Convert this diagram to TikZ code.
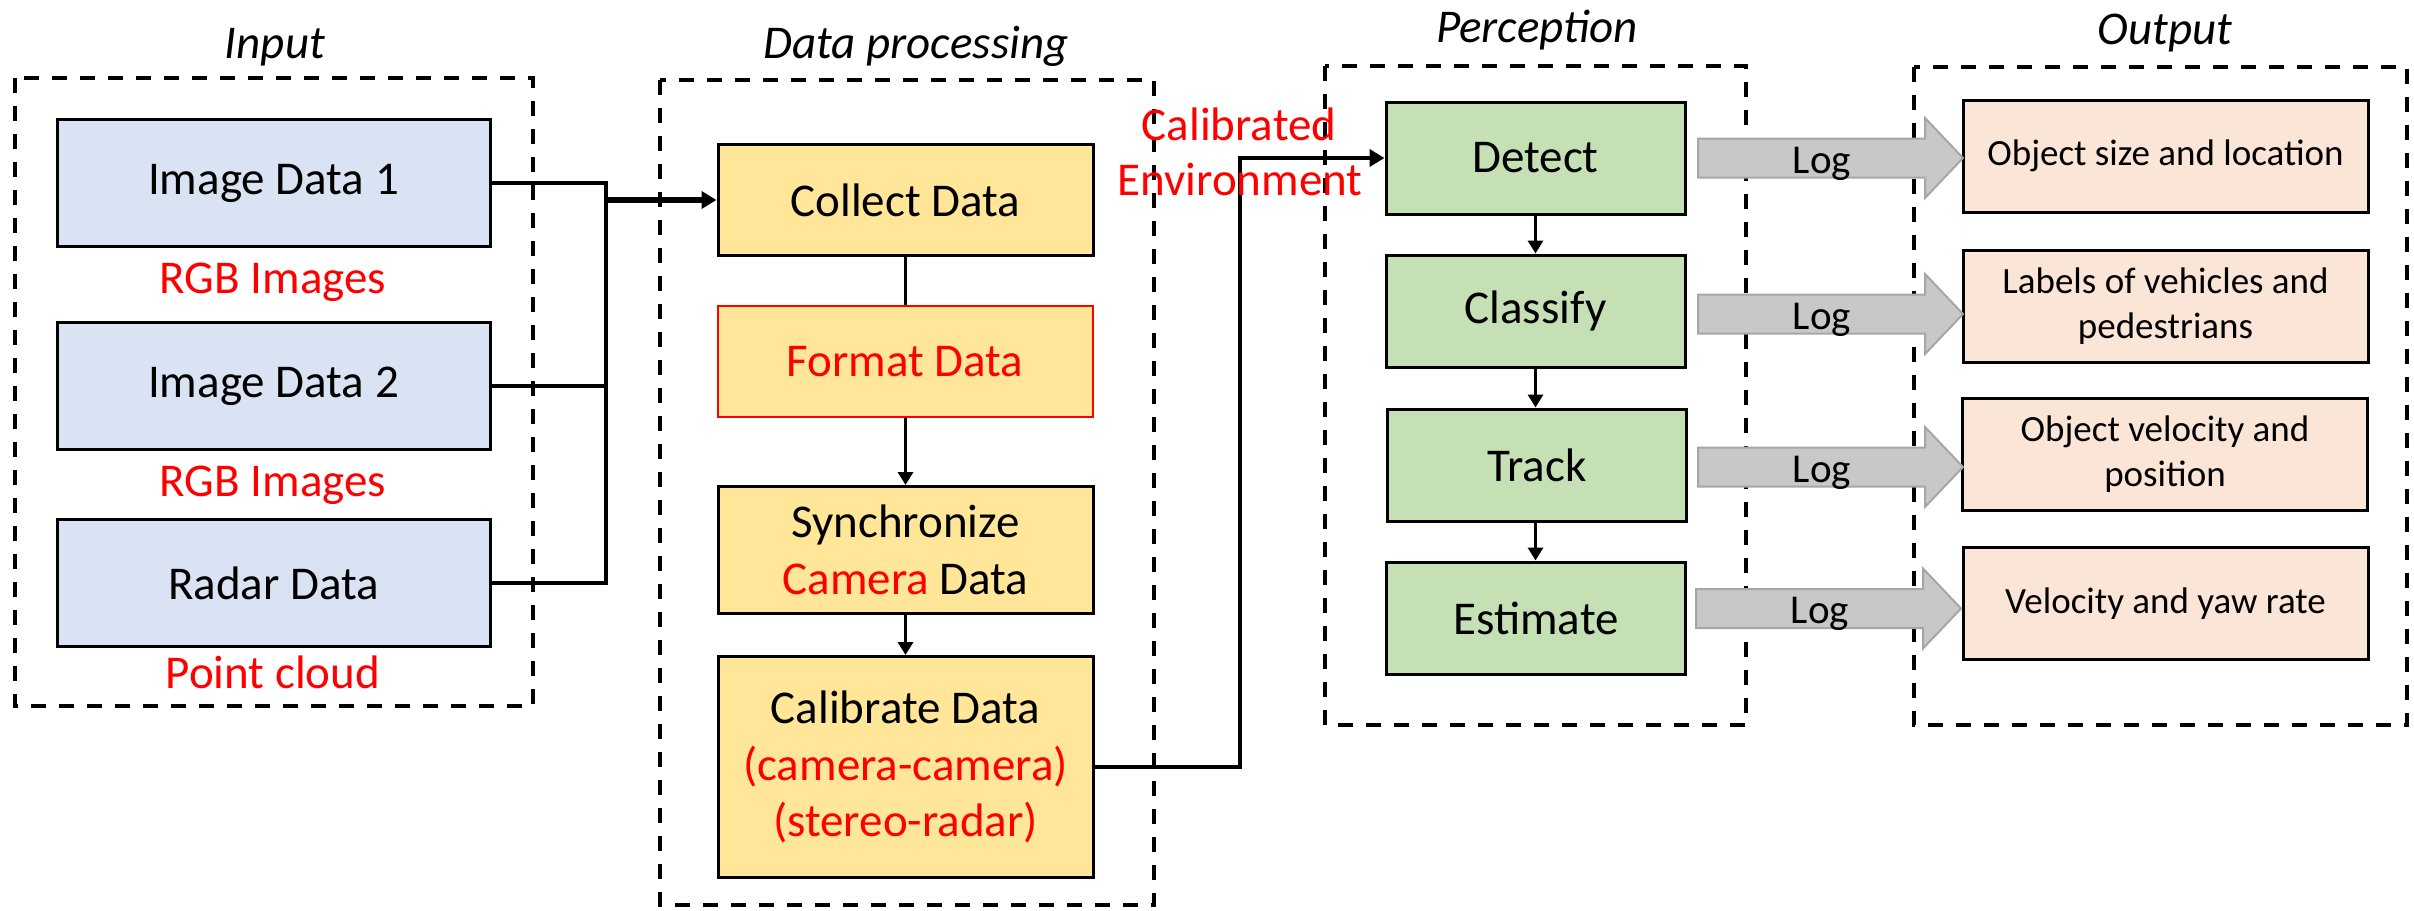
\documentclass[tikz,border=0pt]{standalone}
\usepackage{fontspec}
\setmainfont{Carlito}
\usetikzlibrary{arrows.meta}
\definecolor{inblue}{HTML}{DAE3F3}
\definecolor{procy}{HTML}{FFE699}
\definecolor{perg}{HTML}{C5E0B4}
\definecolor{outp}{HTML}{FBE5D6}
\definecolor{logg}{HTML}{C8C8C8}
\definecolor{logb}{HTML}{A6A6A6}
\definecolor{redt}{HTML}{FF0000}
\newcommand\fbig{\fontsize{47}{56.5}\selectfont}
\newcommand\fsmall{\fontsize{37}{45}\selectfont}
\begin{document}
\begin{tikzpicture}[x=1pt,y=-1pt,
  box/.style={draw=black, line width=3pt, inner sep=0pt, align=center, font=\fbig},
  inbox/.style={box, fill=inblue, minimum width=433pt, minimum height=127pt},
  prbox/.style={box, fill=procy, minimum width=375pt},
  pebox/.style={box, fill=perg, minimum width=299pt, minimum height=112pt},
  oubox/.style={box, fill=outp, font=\fsmall, minimum width=405pt, minimum height=112pt},
  group/.style={draw=black, line width=3.5pt, dash pattern=on 15pt off 13pt},
  title/.style={font=\fbig\itshape, anchor=base, inner sep=0pt},
  redlab/.style={font=\fbig, text=redt, anchor=base, inner sep=0pt},
  link/.style={draw=black, line width=4.5pt},
  thinarrow/.style={draw=black, line width=3.5pt, -{Triangle[length=13pt,width=15pt]}},
  logarrow/.pic={
    \draw[fill=logg, draw=logb, line width=2pt] (0,-19.5) -- (227,-19.5) -- (227,-40) -- (265,0) -- (227,40) -- (227,19.5) -- (0,19.5) -- cycle;
    \node[font=\fontsize{41}{49}\selectfont, anchor=base, inner sep=0pt] at (124,15) {Log};
  }
]
\useasboundingbox[fill=white] (0,0) rectangle (2414,910);

% group frames
\draw[group] (15,78) rectangle (533,706);
\draw[group] (660,80) rectangle (1154,905);
\draw[group] (1325,66) rectangle (1746,725);
\draw[group] (1914,67) rectangle (2407,725);

% titles
\node[title] (tin) at (275,58) {Input};
\node[title] (tdp) at (916,58) {Data processing};
\node[title] (tpe) at (1537,42) {Perception};
\node[title] (tou) at (2165,44) {Output};

% input
\node[inbox] (img1) at (273.5,183) {Image Data 1};
\node[inbox] (img2) at (273.5,386) {Image Data 2};
\node[inbox] (radar) at (273.5,583) {Radar Data};
\node[redlab] (rgb1) at (273,293) {RGB Images};
\node[redlab] (rgb2) at (273,496) {RGB Images};
\node[redlab] (pcl) at (273,688) {Point cloud};

% processing
\node[prbox, minimum height=111pt] (collect) at (905.5,200) {Collect Data};
\node[prbox, minimum height=111pt, draw=redt, line width=2pt, text=redt] (format) at (905,361.5) {Format Data};
\node[prbox, minimum height=127pt] (sync) at (905.5,550) {Synchronize\\{\color{redt}Camera} Data};
\node[prbox, minimum height=221pt] (calib) at (905.5,767) {Calibrate Data\\{\color{redt}(camera-camera)}\\{\color{redt}(stereo-radar)}};

% perception
\node[pebox] (detect) at (1535.5,158) {Detect};
\node[pebox] (classify) at (1535.5,311) {Classify};
\node[pebox] (track) at (1537,465) {Track};
\node[pebox] (estimate) at (1536,618) {Estimate};

% output
\node[oubox] (o1) at (2165.5,156) {Object size and location};
\node[oubox] (o2) at (2165.5,306) {Labels of vehicles and\\pedestrians};
\node[oubox] (o3) at (2165,454.5) {Object velocity and\\position};
\node[oubox] (o4) at (2165.5,603.5) {Velocity and yaw rate};

% input merge
\coordinate (mtop) at (606,183);
\coordinate (mbot) at (606,583);
\coordinate (mid) at (606,386);
\coordinate (min) at (606,200);
\draw[link] (img1.east) -- (mtop) -- (mbot) -- (radar.east);
\draw[link] (img2.east) -- (mid);
\draw[draw=black, line width=5.5pt, -{Triangle[length=15pt,width=17pt]}] (min) -- (collect.west);

% processing chain
\draw[draw=black, line width=3.5pt] (collect.south) -- (collect.south |- format.north);
\draw[thinarrow] (format.south -| collect.south) -- (sync.north -| collect.south);
\draw[thinarrow] (sync.south) -- (calib.north);

% calibrated environment link
\coordinate (cb) at (1240,767);
\coordinate (ct) at (1240,158);
\draw[draw=black, line width=4.5pt, -{Triangle[length=15pt,width=17pt]}] (calib.east |- cb) -- (cb) -- (ct) -- (detect.west);
\node[font=\fbig, text=redt, anchor=base, inner sep=0pt] (calt1) at (1239,140) {Calibrated};
\node[font=\fbig, text=redt, anchor=base, inner sep=0pt] (calt2) at (1240,195) {Environment};

% perception chain
\draw[thinarrow] (detect.south) -- (classify.north);
\draw[thinarrow] (classify.south) -- (track.north -| classify.south);
\draw[thinarrow] (track.south -| classify.south) -- (estimate.north -| classify.south);

% log arrows
\pic at (1698,158) {logarrow};
\pic at (1698,314) {logarrow};
\pic at (1698,467) {logarrow};
\pic at (1696,608.5) {logarrow};
\end{tikzpicture}
\end{document}
